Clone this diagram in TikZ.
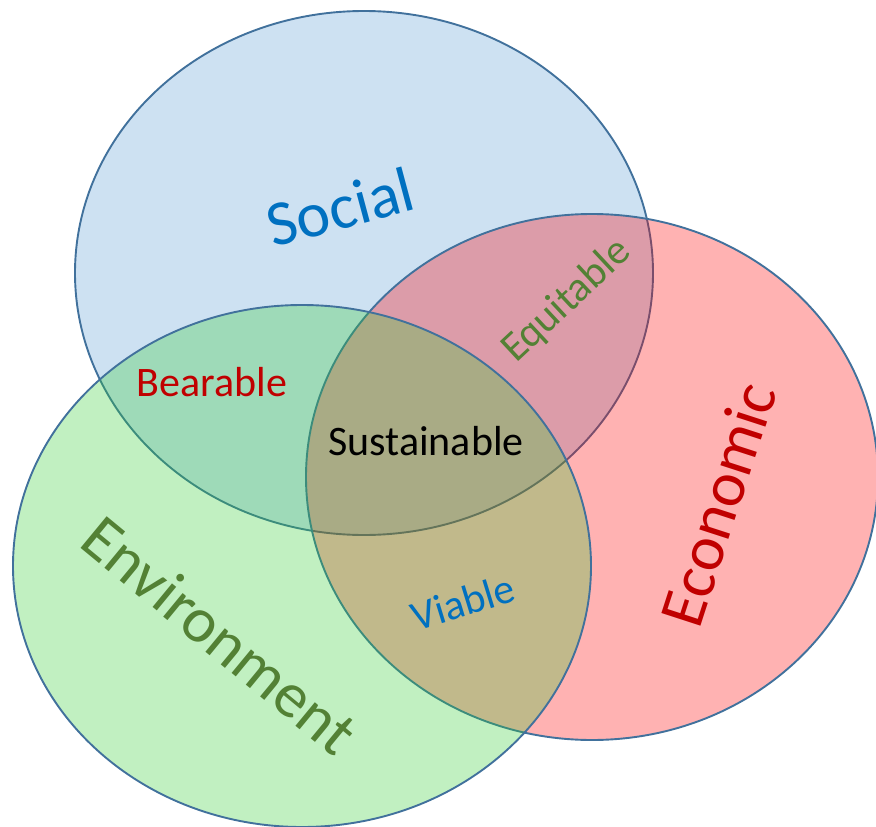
\documentclass[tikz,border=0pt]{standalone}
\usepackage{fontspec}
\setmainfont{Carlito}
\begin{document}
\begin{tikzpicture}[x=1pt,y=-1pt,
  ring/.style={draw=ringline, line width=1.9pt, fill opacity=0.3},
  big/.style={font=\fontsize{64}{64}\selectfont, inner sep=0pt},
  small/.style={font=\fontsize{42}{42}\selectfont, inner sep=0pt}]
\definecolor{ringline}{HTML}{41719C}
\definecolor{socfill}{HTML}{5B9BD5}
\definecolor{ecofill}{HTML}{FF0000}
\definecolor{envfill}{HTML}{33CC33}
\definecolor{tblue}{HTML}{0070C0}
\definecolor{tred}{HTML}{C00000}
\definecolor{tgreen}{HTML}{538135}
\useasboundingbox (0,0) rectangle (876,827);
\clip (0,0) rectangle (876,827);
% circles: social, economic, environment (drawn in this order)
\draw[ring, fill=socfill] (364,273) ellipse [x radius=289, y radius=262];
\draw[ring, fill=ecofill] (592,477) ellipse [x radius=286, y radius=263];
\draw[ring, fill=envfill] (302,566) ellipse [x radius=289, y radius=261];
% labels
\node[big, text=tblue, rotate=15] (social) at (340,207) {Social};
\node[big, text=tred, rotate=72] (economic) at (718,504) {Economic};
\node[big, text=tgreen, rotate=-39.5] (environment) at (220,635) {Environment};
\node[small, text=tred, anchor=base] (bearable) at (212,396) {Bearable};
\node[small, text=black, anchor=base] (sustainable) at (426,455) {Sustainable};
\node[small, text=tgreen, rotate=43] (equitable) at (567,301) {Equitable};
\node[small, text=tblue, rotate=17] (viable) at (463,602) {Viable};
\end{tikzpicture}
\end{document}
